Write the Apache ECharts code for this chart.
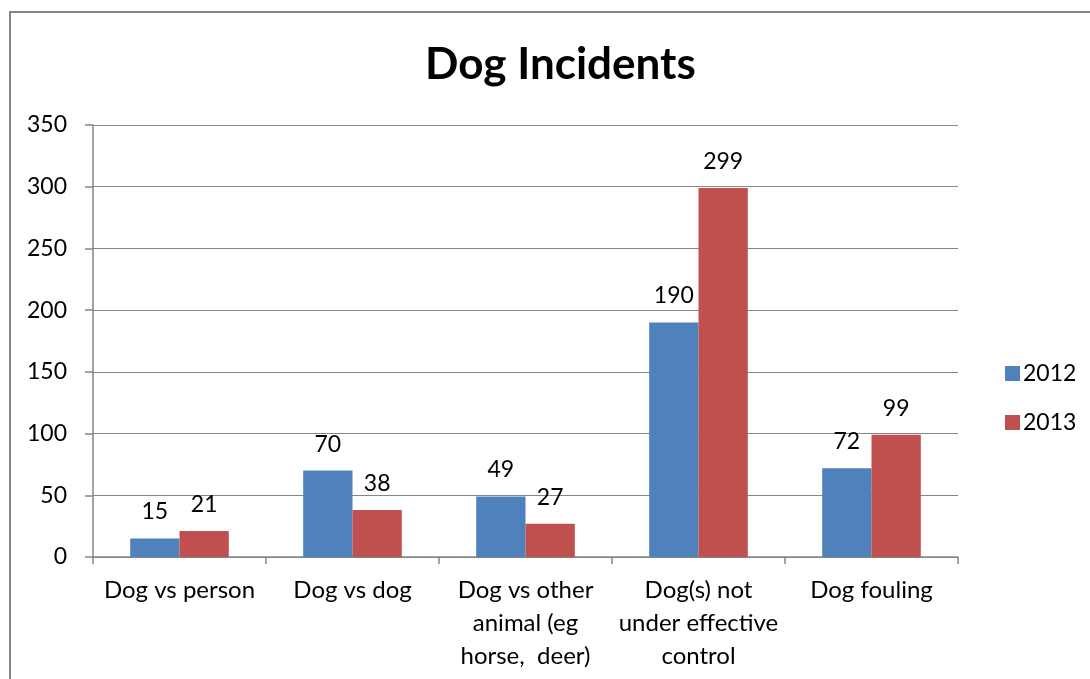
<!DOCTYPE html>
<html><head><meta charset="utf-8">
<script src="https://cdn.jsdelivr.net/npm/echarts@6/dist/echarts.min.js"></script>
<style>html,body{margin:0;padding:0;background:#fff}#c{width:1090px;height:679px}</style>
</head><body><div id="c"></div>
<script>
const categories = ["Dog vs person", "Dog vs dog", "Dog vs other\nanimal (eg\nhorse,  deer)", "Dog(s) not\nunder effective\ncontrol", "Dog fouling"];
const values2012 = [15, 70, 49, 190, 72];
const values2013 = [21, 38, 27, 299, 99];
const yTicks = { min: 0, max: 350, interval: 50 };
const FONT = 'Lato';
const chart = echarts.init(document.getElementById('c'), null, {renderer: 'canvas'});
const lbl = {show: true, position: 'top', distance: 15, color: '#000', fontFamily: FONT, fontSize: 23};
chart.setOption({
  animation: false,
  backgroundColor: '#fff',
  graphic: [{type: 'rect', shape: {x: 10, y: 12, width: 1200, height: 800}, style: {fill: 'none', stroke: '#868686', lineWidth: 2}, silent: true}],
  title: {text: 'Dog Incidents', left: 420, top: 38, textStyle: {fontFamily: FONT, fontWeight: 'bold', fontSize: 44, color: '#000'}},
  legend: {orient: 'vertical', left: 1000, top: 357, itemWidth: 15, itemHeight: 15, itemGap: 26,
    icon: 'rect', textStyle: {fontFamily: FONT, fontSize: 23, lineHeight: 22, color: '#000', padding: [0,0,0,-2]},
    data: ['2012', '2013']},
  grid: {left: 93, right: 132, top: 125, bottom: 122, containLabel: false},
  xAxis: {type: 'category', data: categories,
    axisLine: {lineStyle: {color: '#868686', width: 1.5}},
    axisTick: {show: true, length: 7, lineStyle: {color: '#868686', width: 1.5}},
    axisLabel: {color: '#000', fontFamily: FONT, fontSize: 24, lineHeight: 33, margin: 17, interval: 0}},
  yAxis: {type: 'value', min: yTicks.min, max: yTicks.max, interval: yTicks.interval,
    axisLine: {show: true, lineStyle: {color: '#868686', width: 1.5}},
    axisTick: {show: true, length: 8, lineStyle: {color: '#868686', width: 1.5}},
    splitLine: {lineStyle: {color: '#868686', width: 1.2}},
    axisLabel: {color: '#000', fontFamily: FONT, fontSize: 23, margin: 26}},
  series: [
    {name: '2012', type: 'bar', data: values2012, itemStyle: {color: '#4F81BD'}, barGap: '0%', barCategoryGap: '43%', label: lbl},
    {name: '2013', type: 'bar', data: values2013, itemStyle: {color: '#C0504D'}, barGap: '0%', barCategoryGap: '43%', label: lbl}
  ]
});
</script></body></html>
